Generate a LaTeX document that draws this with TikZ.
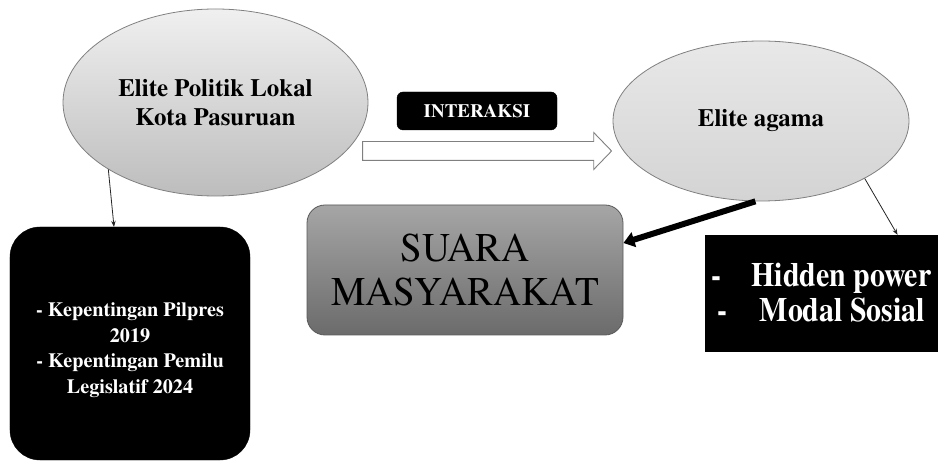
\documentclass[tikz,border=0pt]{standalone}
\usepackage{fontspec}
\setmainfont{texgyretermes}[Extension=.otf, UprightFont=*-regular, BoldFont=*-bold, ItalicFont=*-italic, BoldItalicFont=*-bolditalic]
\usetikzlibrary{shapes.geometric,shapes.arrows,arrows.meta}
\begin{document}
\begin{tikzpicture}[x=1bp,y=-1bp,
  ellnode/.style={ellipse, draw=black!50, line width=0.8bp, align=center, inner sep=0pt,
    font=\bfseries\fontsize{25}{28.5}\selectfont},
  darkbox/.style={fill=black, draw=black, text=white, align=center, inner sep=0pt},
  thinarrow/.style={-{Stealth[length=6bp,width=4.5bp]}, line width=0.8bp, draw=black!85},
  thickarrow/.style={-{Triangle[length=11bp,width=15bp]}, line width=6bp, draw=black},
  hollow/.style={single arrow, draw=black!50, line width=0.9bp, fill=white, inner xsep=0pt,
    inner ysep=9bp, single arrow head extend=9bp, single arrow tip angle=92, minimum height=249bp}
]
\useasboundingbox[fill=white] (0,0) rectangle (938,463);

% ellipses
\node[ellnode, top color=black!6, bottom color=black!26, minimum width=305bp, minimum height=187bp]
  (lell) at (215.5,102.5) {Elite Politik Lokal\\Kota Pasuruan};
\node[ellnode, top color=black!9, bottom color=black!17, minimum width=296bp, minimum height=160bp]
  (rell) at (761,121) {Elite agama};

% interaksi label and hollow arrow
\node[darkbox, rounded corners=6bp, minimum width=160bp, minimum height=38bp,
  font=\bfseries\fontsize{19}{22}\selectfont] (inter) at (477,111) {INTERAKSI};
\node[hollow] (harrow) at (482.5,151) {};

% left black box
\node[darkbox, rounded corners=30bp, minimum width=240bp, minimum height=233bp,
  font=\bfseries\fontsize{20.3}{25.6}\selectfont] (lbox) at (130,343.5)
  {\parbox{230bp}{\centering\vspace*{13bp}- Kepentingan Pilpres\\2019\\- Kepentingan Pemilu\\Legislatif 2024}};

% suara masyarakat
\node[draw=black!65, line width=0.8bp, rounded corners=18bp, top color=black!35, bottom color=black!58,
  minimum width=316bp, minimum height=130bp, inner sep=0pt] (sbox) at (465,270)
  {\scalebox{1}[1.05]{\parbox{310bp}{\centering\fontsize{39}{43}\selectfont SUARA\\MASYARAKAT}}};

% right black box
\node[darkbox, minimum width=233bp, minimum height=116bp] (rbox) at (821.5,293)
  {\scalebox{1}[1.14]{\parbox{230bp}{\centering\bfseries\fontsize{30}{31}\selectfont
   -\hspace{30bp}Hidden power\\-\hspace{32bp}Modal Sosial}}};

% connectors
\draw[thinarrow] (lell.212) -- ([xshift=-16bp]lbox.north);
\draw[thinarrow] (rell.331) -- ([xshift=76bp]rbox.north);
\draw[thickarrow] (rell.266) -- ([yshift=27bp]sbox.east);
\end{tikzpicture}
\end{document}
